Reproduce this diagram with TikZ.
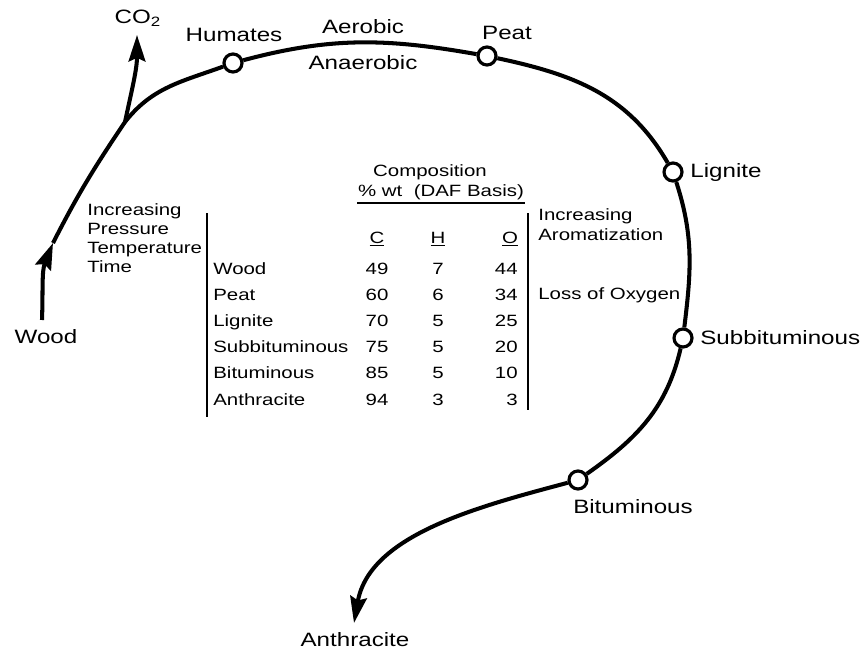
\documentclass[tikz,border=0pt]{standalone}
\usepackage{fontspec}
\setmainfont{Liberation Sans}[FakeStretch=1.25]
\usetikzlibrary{arrows.meta}

\begin{document}
\begin{tikzpicture}[x=0.02cm, y=0.02cm,
  coal/.style={line width=2.3pt},
  headed/.style={-{Stealth[length=15pt, width=9.5pt, inset=2pt]}},
  rank/.style={circle, draw, fill=white, line width=1.8pt, minimum size=0.36cm, inner sep=0pt},
  lbl/.style={inner sep=0pt, font=\fontsize{11}{13}\selectfont},
  tbl/.style={inner sep=0pt, font=\fontsize{9.3}{11}\selectfont}]

\useasboundingbox (0,0) rectangle (868,-655);

% Table layout
\newcommand{\rowtop}{274}
\newcommand{\rowstep}{26.2}
\newcommand{\colC}{377}
\newcommand{\colH}{438}
\newcommand{\colO}{518}

% Ends of the path
\coordinate (woodstart) at (42,-320);
\coordinate (woodtip) at (53,-243);
\coordinate (junction) at (125,-122);
\coordinate (co2tip) at (137,-35);
\coordinate (anthtip) at (354,-623);

% Stages on the path
\node[rank] (humates) at (233,-63) {};
\node[rank] (peat) at (487,-56) {};
\node[rank] (lignite) at (673,-172) {};
\node[rank] (subbit) at (683,-338) {};
\node[rank] (bitum) at (578,-480) {};

% Coalification path
\draw[coal, headed] (woodstart) to[out=88, in=-112] (woodtip);
\draw[coal] (woodtip) to[out=63, in=236] (junction) to[out=52, in=200] (humates);
\draw[coal, headed] (junction) to[out=78, in=-90] (co2tip);
\draw[coal] (humates) to[out=15, in=170] (peat);
\draw[coal] (peat) to[out=-12, in=120] (lignite);
\draw[coal] (lignite) to[out=-72, in=83] (subbit);
\draw[coal] (subbit) to[out=-103, in=35] (bitum);
\draw[coal, headed] (bitum) to[out=-165, in=80, looseness=0.9] (anthtip);

% Path labels
\node[lbl] (wood) at (46,-337) {Wood};
\node[lbl] (co2) at (138,-18) {CO\textsubscript{2}};
\node[lbl] (humatestext) at (234,-35) {Humates};
\node[lbl] (aerobic) at (363,-27) {Aerobic};
\node[lbl] (anaerobic) at (363,-63) {Anaerobic};
\node[lbl] (peattext) at (507,-33) {Peat};
\node[lbl, anchor=west] (lignitetext) at (690,-173) {Lignite};
\node[lbl, anchor=west] (subbittext) at (700,-338) {Subbituminous};
\node[lbl] (bitumtext) at (633,-507) {Bituminous};
\node[lbl] (anthtext) at (355,-640) {Anthracite};

% Side notes
\node[tbl, align=left, anchor=north west, font=\fontsize{9.3}{10.8}\selectfont] (increasing) at (87,-203)
  {Increasing\\Pressure\\Temperature\\Time};
\node[tbl, align=left, anchor=north west, font=\fontsize{9.3}{11.3}\selectfont] (aromatization) at (538,-208)
  {Increasing\\Aromatization};
\node[tbl, anchor=west] (oxygen) at (538,-295) {Loss of Oxygen};

% Table heading
\node[tbl] (composition) at (430,-172) {Composition};
\node[tbl] (basis) at (441,-192) {\% wt\ \ (DAF Basis)};
\coordinate (basisL) at (357,-203);
\coordinate (basisR) at (525,-203);
\draw[line width=0.8pt] (basisL) -- (basisR);
\node[tbl, anchor=base] (headC) at (\colC,-243) {\underline{C}};
\node[tbl, anchor=base] (headH) at (\colH,-243) {\underline{H}};
\node[tbl, anchor=base] (headO) at (510,-243) {\underline{O}};

% Table bars
\coordinate (leftT) at (207,-213);
\coordinate (leftB) at (207,-417);
\coordinate (rightT) at (528,-213);
\coordinate (rightB) at (528,-410);
\draw[line width=0.7pt] (leftT) -- (leftB);
\draw[line width=0.7pt] (rightT) -- (rightB);

% Table rows
\foreach \name/\cc/\hh/\oo [count=\i] in {Wood/49/7/44, Peat/60/6/34, Lignite/70/5/25,
    Subbituminous/75/5/20, Bituminous/85/5/10, Anthracite/94/3/3} {
  \node[tbl, anchor=base west] (name\i) at (213, {-\rowtop-\rowstep*(\i-1)}) {\name};
  \node[tbl, anchor=base] (c\i) at (\colC, {-\rowtop-\rowstep*(\i-1)}) {\cc};
  \node[tbl, anchor=base] (h\i) at (\colH, {-\rowtop-\rowstep*(\i-1)}) {\hh};
  \node[tbl, anchor=base east] (o\i) at (\colO, {-\rowtop-\rowstep*(\i-1)}) {\oo};
}

\end{tikzpicture}
\end{document}
